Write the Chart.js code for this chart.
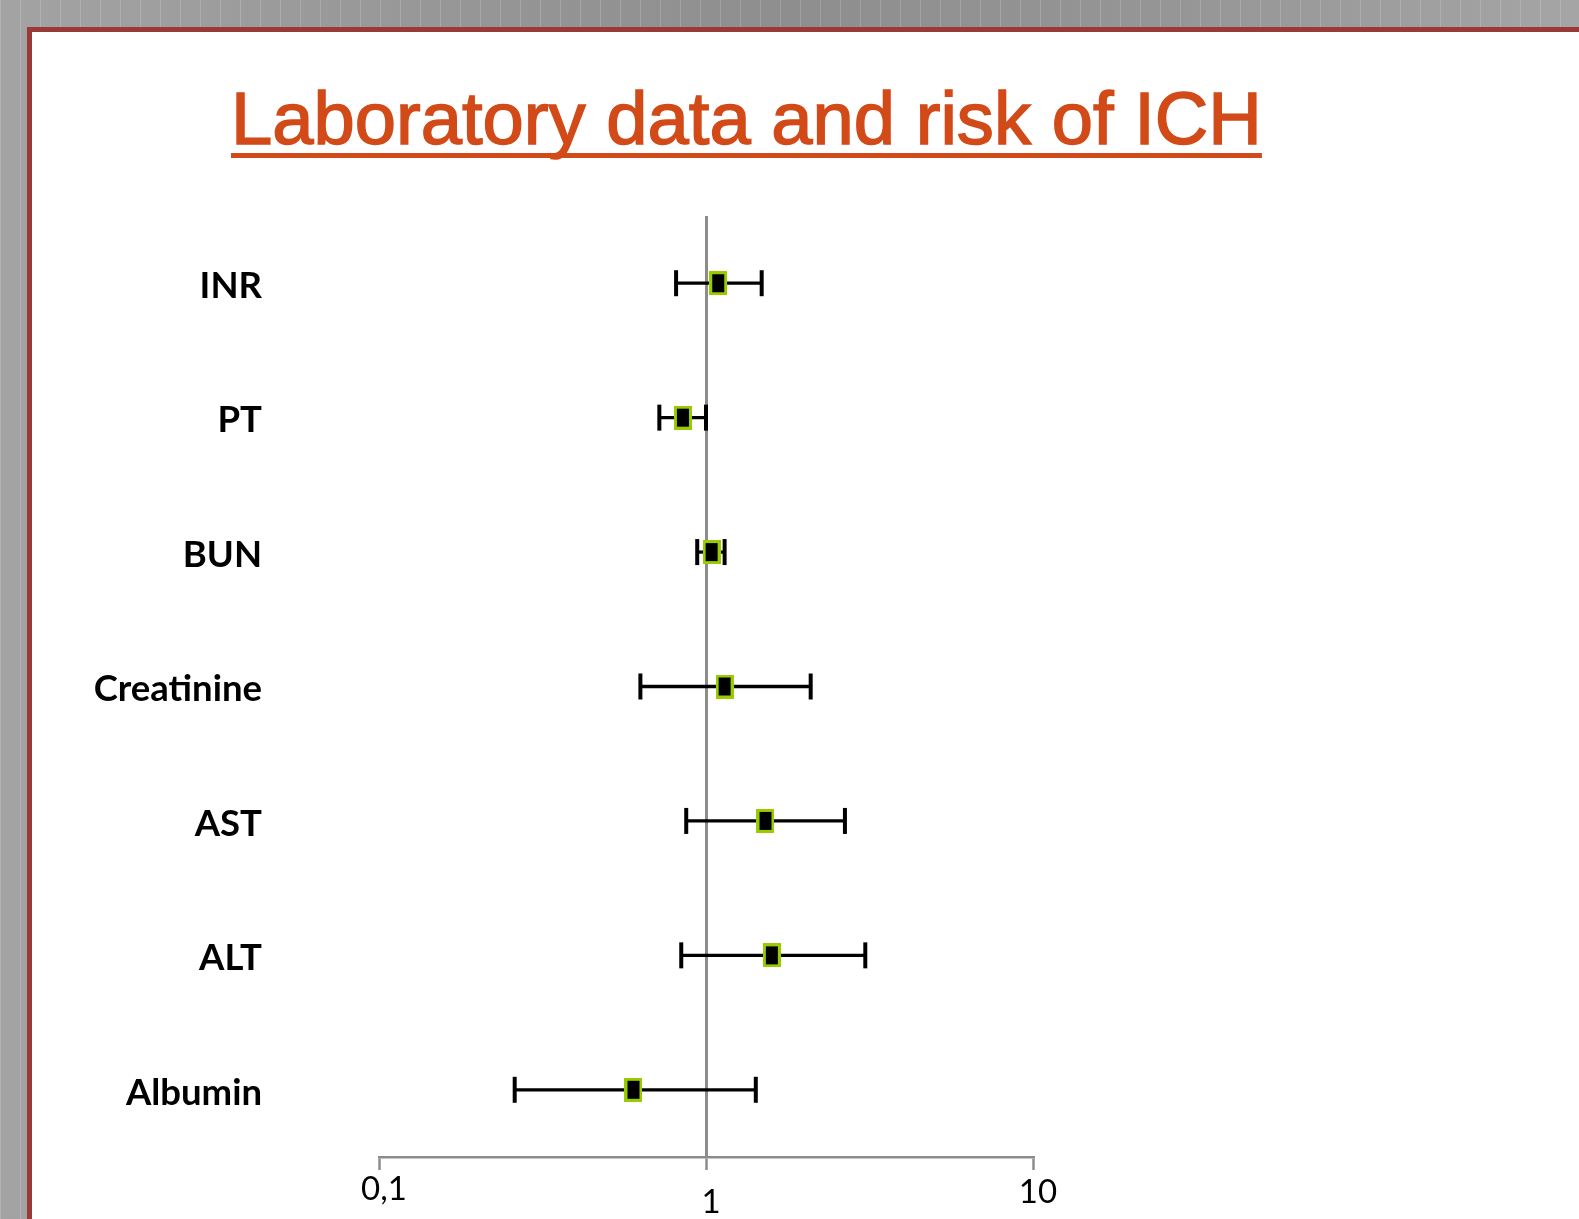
<!DOCTYPE html>
<html><head><meta charset="utf-8">
<script src="https://cdn.jsdelivr.net/npm/chart.js@4.4.1/dist/chart.umd.min.js"></script>
<style>
html,body{margin:0;padding:0;width:1579px;height:1219px;overflow:hidden;}
body{background:
  repeating-linear-gradient(90deg, rgba(255,255,255,0.16) 0 1px, rgba(255,255,255,0) 1px 20px),
  linear-gradient(90deg,#a3a3a3 0%,#9a9a9a 20%,#8e8e8e 50%,#969696 75%,#a5a5a5 100%);}
#slide{position:absolute;left:27px;top:27px;right:-10px;bottom:-10px;background:#fff;border-top:5px solid #9a3a37;border-left:5px solid #9a3a37;}
#title{position:absolute;left:231px;top:82px;margin:0;font-weight:normal;font-size:74.2px;line-height:1;font-family:"Liberation Sans",Arial,sans-serif;color:#d24a18;white-space:nowrap;text-decoration:underline;text-decoration-thickness:5px;text-underline-offset:9px;text-decoration-skip-ink:none;-webkit-text-stroke:1.5px #d24a18;}
#wrap{position:absolute;left:0;top:0;width:1579px;height:1219px;}
</style></head>
<body>
<div id="slide"></div>
<h1 id="title">Laboratory data and risk of ICH</h1>
<div id="wrap"><canvas id="c" width="1579" height="1219"></canvas></div>
<script>
const categories = ['INR','PT','BUN','Creatinine','AST','ALT','Albumin'];
const oddsRatio = [1.09, 0.85, 1.04, 1.14, 1.52, 1.59, 0.60];
const ciLow     = [0.81, 0.72, 0.94, 0.63, 0.87, 0.84, 0.26];
const ciHigh    = [1.48, 1.00, 1.14, 2.09, 2.66, 3.07, 1.42];
const xTickValues = [0.1, 1, 10];
const xTickLabels = ['0,1', '1', '10'];

const marker = document.createElement('canvas');
marker.width = 18; marker.height = 24;
const mg = marker.getContext('2d');
mg.fillStyle = '#99cc00'; mg.fillRect(0, 0, 18, 24);
mg.fillStyle = '#000000'; mg.fillRect(3, 3, 12, 18);

const capData = [];
categories.forEach((c, i) => { capData.push({x: ciLow[i], y: c}); capData.push({x: ciHigh[i], y: c}); });

new Chart(document.getElementById('c'), {
  type: 'bar',
  data: {
    labels: categories,
    datasets: [
      {type: 'scatter', label: 'OR', data: categories.map((c, i) => ({x: oddsRatio[i], y: c})),
       pointStyle: marker, pointRadius: 12, order: 0},
      {type: 'scatter', label: 'CI caps', data: capData, pointStyle: 'line', rotation: 90,
       pointRadius: 13, borderColor: '#000', pointBorderColor: '#000', pointBorderWidth: 4, borderWidth: 4, order: 1},
      {type: 'bar', label: 'CI', data: categories.map((c, i) => [ciLow[i], ciHigh[i]]),
       backgroundColor: '#000', borderWidth: 0, barThickness: 2.6, order: 2}
    ]
  },
  options: {
    indexAxis: 'y',
    responsive: false,
    animation: false,
    events: [],
    layout: {padding: {left: 0, right: 546, top: 216, bottom: 0}},
    plugins: {legend: {display: false}, tooltip: {enabled: false}, title: {display: false}},
    scales: {
      x: {
        type: 'logarithmic', position: 'bottom', min: 0.1, max: 10,
        afterBuildTicks: s => { s.ticks = xTickValues.map(v => ({value: v})); },
        afterFit: s => { s.height = 62; },
        ticks: {
          autoSkip: false, maxRotation: 0, minRotation: 0, padding: 0, labelOffset: 5, color: '#000',
          callback: (v, i) => xTickLabels[i],
          font: ctx => ({family: 'Lato', size: 33, lineHeight: ctx.index === 1 ? 1.99 : (ctx.index === 2 ? 1.38 : 1.2)})
        },
        grid: {
          color: ctx => (ctx.tick && ctx.tick.value === 1) ? '#8c8c8c' : 'rgba(0,0,0,0)',
          lineWidth: 3, tickColor: '#8c8c8c', tickLength: 13, tickWidth: 2.5
        },
        border: {display: true, color: '#8c8c8c', width: 2.5}
      },
      y: {
        type: 'category', labels: categories, offset: true,
        afterFit: s => { s.width = 379; s.paddingTop = 0; s.paddingBottom = 0; },
        grid: {display: true, drawOnChartArea: false, drawTicks: true, tickLength: 117, tickColor: 'rgba(0,0,0,0)', color: 'rgba(0,0,0,0)'},
        border: {display: false},
        ticks: {padding: 0, labelOffset: 3, color: '#000', font: {family: 'Lato', weight: 'bold', size: 36.5}}
      }
    }
  }
});
</script>
</body></html>
